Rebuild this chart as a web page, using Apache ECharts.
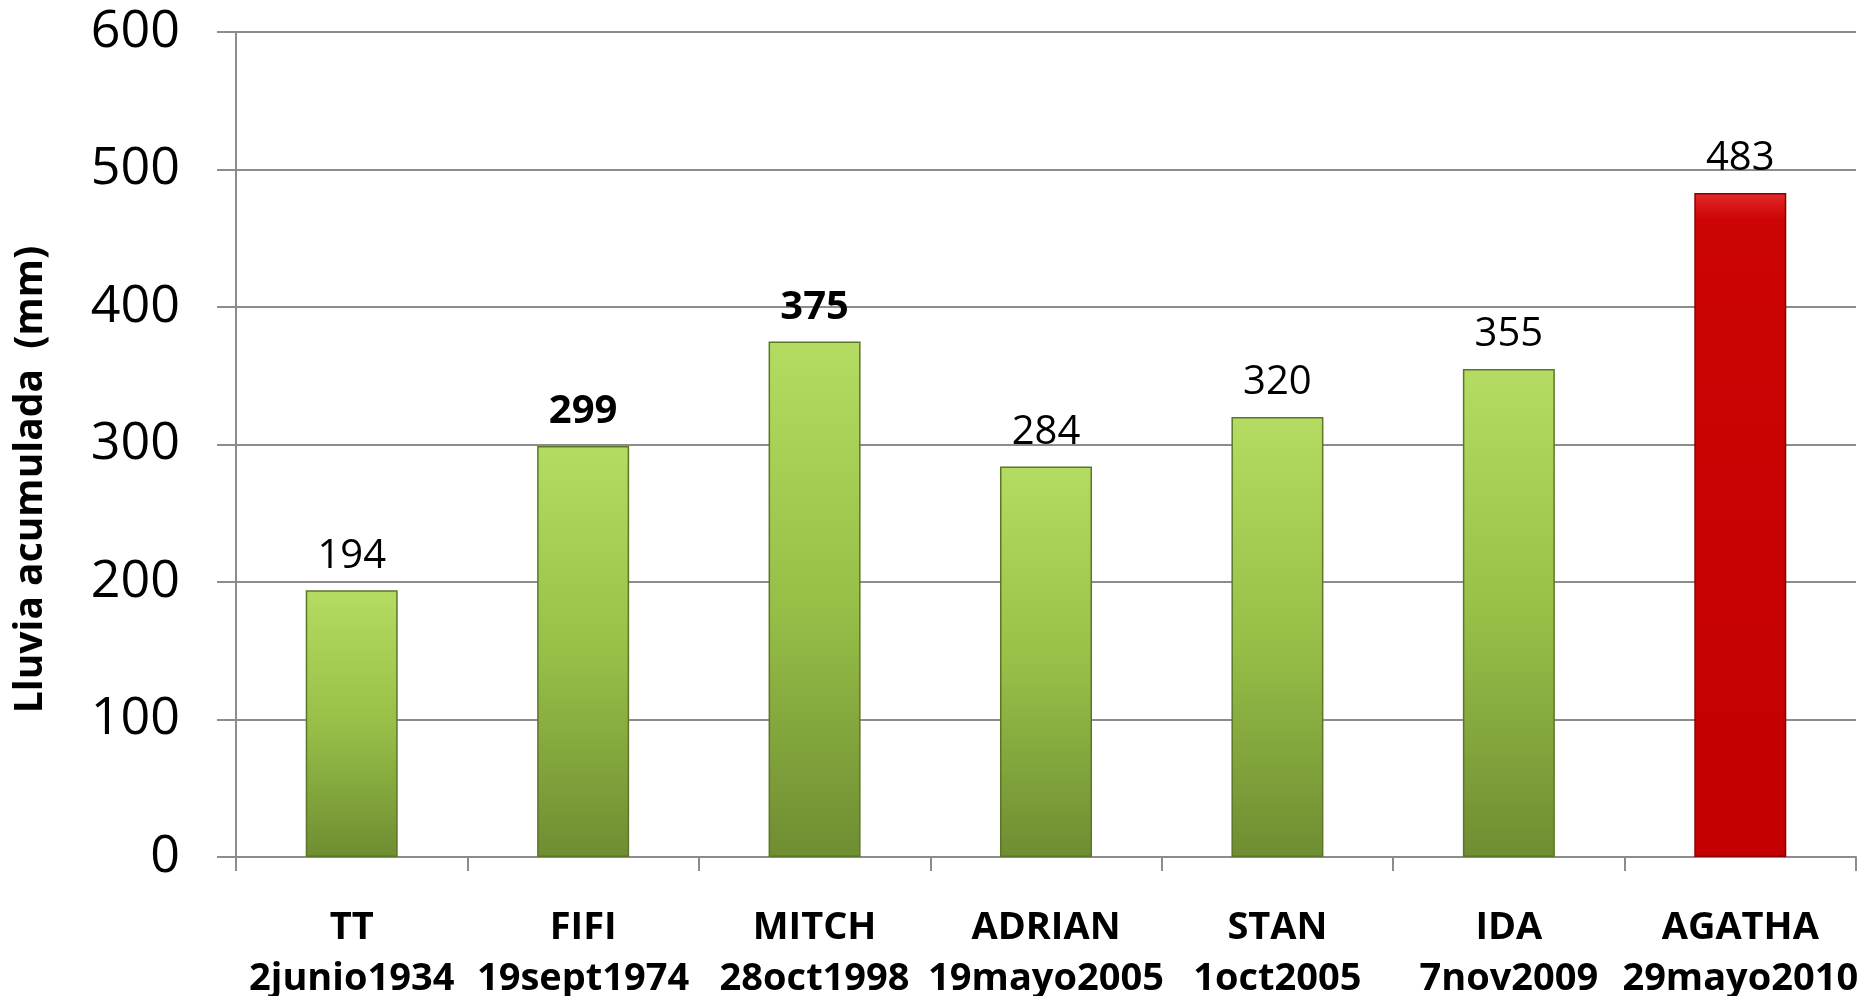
<!DOCTYPE html>
<html>
<head>
<meta charset="utf-8">
<script src="https://cdn.jsdelivr.net/npm/echarts@6/dist/echarts.min.js"></script>
<style>
html,body{margin:0;padding:0;background:#fff;}
#chart{width:1871px;height:996px;}
</style>
</head>
<body>
<div id="chart"></div>
<script>
const names = ['TT', 'FIFI', 'MITCH', 'ADRIAN', 'STAN', 'IDA', 'AGATHA'];
const dates = ['2junio1934', '19sept1974', '28oct1998', '19mayo2005', '1oct2005', '7nov2009', '29mayo2010'];
const rainfall = [194, 299, 375, 284, 320, 355, 483];
const boldLabels = [false, true, true, false, false, false, false];
const highlighted = [false, false, false, false, false, false, true];
const yTicks = [0, 100, 200, 300, 400, 500, 600];
const yTitle = 'Lluvia acumulada  (mm)';

const categories = names.map((n, i) => n + '\n' + dates[i]);

const greenFill = new echarts.graphic.LinearGradient(0, 0, 0, 1, [
  {offset: 0, color: '#b4dc62'},
  {offset: 0.5, color: '#98c048'},
  {offset: 1, color: '#6f8d32'}
]);
const redFill = new echarts.graphic.LinearGradient(0, 0, 0, 1, [
  {offset: 0, color: '#e52a2a'},
  {offset: 0.04, color: '#cc0404'},
  {offset: 1, color: '#c40000'}
]);

const data = rainfall.map((v, i) => ({
  value: v,
  itemStyle: {
    color: highlighted[i] ? redFill : greenFill,
    borderColor: highlighted[i] ? '#8a0000' : '#5c7628',
    borderWidth: 1.5
  },
  label: {fontWeight: boldLabels[i] ? 'bold' : 'normal'}
}));

const chart = echarts.init(document.getElementById('chart'));
chart.setOption({
  animation: false,
  backgroundColor: '#ffffff',
  grid: {left: 236, right: 15, top: 32, bottom: 139, containLabel: false, outerBoundsMode: 'none'},
  xAxis: {
    type: 'category',
    data: categories,
    axisLine: {show: true, lineStyle: {color: '#8c8c8c', width: 2}},
    axisTick: {show: true, length: 14, alignWithLabel: false, lineStyle: {color: '#8c8c8c', width: 2}},
    axisLabel: {
      interval: 0,
      margin: 46,
      color: '#000',
      fontFamily: 'Open Sans',
      fontWeight: 'bold',
      fontSize: 38,
      lineHeight: 51
    }
  },
  yAxis: {
    type: 'value',
    min: yTicks[0],
    max: yTicks[yTicks.length - 1],
    interval: 100,
    name: yTitle,
    nameLocation: 'middle',
    nameGap: 186,
    nameRotate: 90,
    nameTextStyle: {
      color: '#000',
      fontFamily: 'Open Sans',
      fontWeight: 'bold',
      fontSize: 39,
      padding: [0, 70, 0, 0]
    },
    axisLine: {show: true, lineStyle: {color: '#8c8c8c', width: 2}},
    axisTick: {show: true, inside: false, length: 19, lineStyle: {color: '#8c8c8c', width: 2}},
    splitLine: {show: true, lineStyle: {color: '#8c8c8c', width: 2}},
    axisLabel: {
      margin: 56,
      color: '#000',
      fontFamily: 'Open Sans',
      fontSize: 52
    }
  },
  series: [{
    type: 'bar',
    data: data,
    barWidth: 92,
    label: {
      show: true,
      position: 'top',
      distance: 14,
      color: '#000',
      fontFamily: 'Open Sans',
      fontSize: 40
    }
  }]
});
</script>
</body>
</html>
